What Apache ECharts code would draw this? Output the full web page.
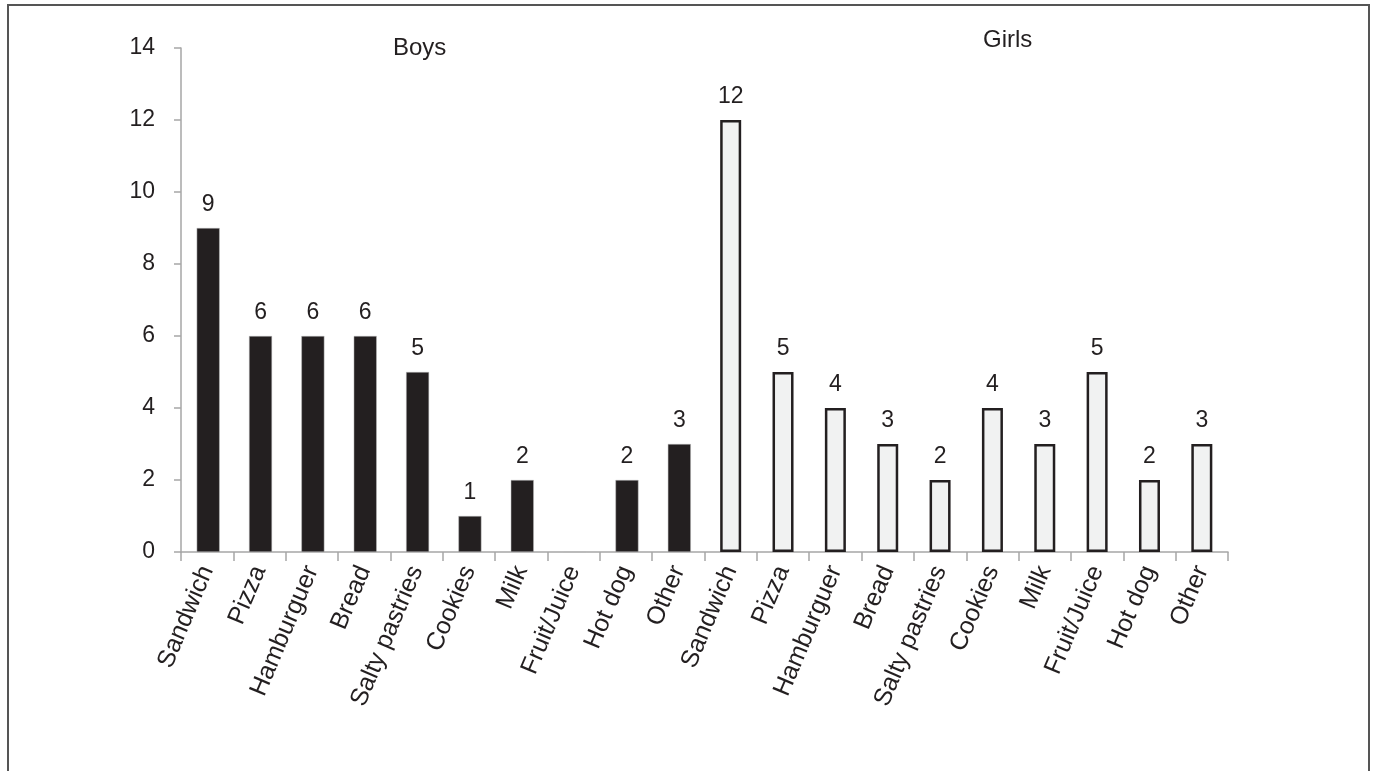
<!DOCTYPE html>
<html>
<head>
<meta charset="utf-8">
<script src="https://cdn.jsdelivr.net/npm/echarts@6/dist/echarts.min.js"></script>
<style>
html,body{margin:0;padding:0;background:#fff;}
#chart{width:1375px;height:771px;}
</style>
</head>
<body>
<div id="chart"></div>
<script>
const foods = ["Sandwich","Pizza","Hamburguer","Bread","Salty pastries","Cookies","Milk","Fruit/Juice","Hot dog","Other"];
const categories = foods.concat(foods);
const boys = [9,6,6,6,5,1,2,0,2,3];
const girls = [12,5,4,3,2,4,3,5,2,3];
const yTicks = {min:0, max:14, interval:2};

const boysData = boys.concat(foods.map(()=>null));
const girlsData = foods.map(()=>null).concat(girls);

const chart = echarts.init(document.getElementById('chart'));
const FONT = '"Liberation Sans", Arial, sans-serif';
const label = {
  show:true, position:'top', distance:12, fontSize:23, color:'#231f20', fontFamily:FONT,
  formatter: p => (p.value ? String(p.value) : '')
};
chart.setOption({
  animation:false,
  grid:{left:181, right:147, top:48, bottom:219, containLabel:false},
  xAxis:{
    type:'category', data:categories,
    axisLine:{lineStyle:{color:'#a6a6a6', width:1.5}},
    axisTick:{show:true, length:9, lineStyle:{color:'#a6a6a6', width:1.5}, alignWithLabel:false},
    axisLabel:{rotate:67, fontSize:25, color:'#231f20', fontFamily:FONT, margin:15, interval:0}
  },
  yAxis:{
    type:'value', min:yTicks.min, max:yTicks.max, interval:yTicks.interval,
    axisLine:{show:true, lineStyle:{color:'#a6a6a6', width:1.5}},
    axisTick:{show:true, length:7, lineStyle:{color:'#a6a6a6', width:1.5}},
    splitLine:{show:false},
    axisLabel:{fontSize:23, color:'#231f20', fontFamily:FONT, margin:26}
  },
  series:[
    {type:'bar', name:'Boys', data:boysData, barWidth:23, barGap:'-100%',
     itemStyle:{color:'#231f20', borderColor:'#bbbbbb', borderWidth:0.5}, label:label},
    {type:'bar', name:'Girls', data:girlsData, barWidth:21,
     itemStyle:{color:'#f1f2f2', borderColor:'#231f20', borderWidth:2.5}, label:label}
  ],
  graphic:[
    {type:'rect', shape:{x:8, y:5, width:1361, height:800}, style:{fill:'none', stroke:'#555', lineWidth:2}, silent:true},
    {type:'text', left:393, top:36, style:{text:'Boys', fontSize:24, fill:'#231f20', fontFamily:FONT}},
    {type:'text', left:983, top:28, style:{text:'Girls', fontSize:24, fill:'#231f20', fontFamily:FONT}}
  ]
});
</script>
</body>
</html>
